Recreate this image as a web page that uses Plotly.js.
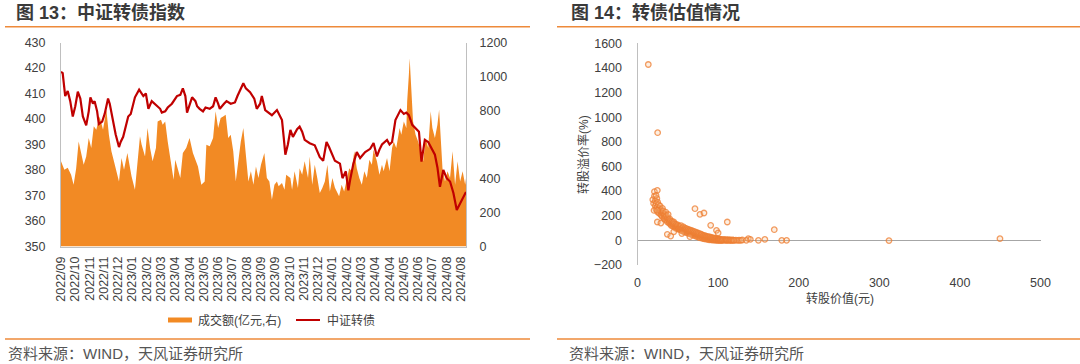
<!DOCTYPE html>
<html>
<head>
<meta charset="utf-8">
<script src="https://cdn.plot.ly/plotly-3.0.1.min.js"></script>
<style>html,body{margin:0;padding:0;background:#fff;}#chart{width:1080px;height:364px;}</style>
</head>
<body>
<div id="chart"></div>
<script>
// ---- Left chart: 中证转债指数 (trading-day index along x) ----
const xTickLabels = ['2022/09','2022/10','2022/11','2022/11','2022/12','2023/01','2023/02','2023/03','2023/04','2023/04','2023/05','2023/06','2023/07','2023/08','2023/09','2023/09','2023/10','2023/11','2023/12','2024/01','2024/02','2024/03','2024/04','2024/04','2024/05','2024/06','2024/07','2024/08','2024/08'];

const volDay = [0,4,8,12,15,18,21,24,27,30,33,36,39,42,46,50,54,57,60,63,66,69,72,75,79,82,84,88,91,94,96,100,103,106,109,113,115,119,121,124,127,131,134,136,139,142,145,149,153,157,160,163,167,171,173,177,181,184,187,190,193,196,199,202,205,208,211,214,217,220,223,226,229,232,235,238,242,245,248,251,254,257,259,263,266,268,273,275,278,282,284,287,290,294,296,299,302,305,308,311,314,317,320,323,326,331,334,337,340,343,346,349,352,355,358,361,364,367,370,372,376,379,382,384,388,391,394,396,399,403,405,408,411,412,414,415,416,417,419,422,425,428,431,434,437,440,442,445,448,450,452,454,457,460,463,466,469,472,475,478,481,482];
const volValue = [501,452,463,422,363,457,618,550,481,530,638,579,707,687,765,687,804,658,560,501,442,383,520,452,550,461,412,334,481,648,599,530,697,579,501,579,736,746,716,736,618,501,393,511,461,403,550,579,638,550,511,471,363,383,599,589,638,795,697,756,765,775,638,658,560,383,501,618,697,540,383,442,363,471,403,481,550,403,383,275,363,383,354,373,334,422,403,334,442,344,461,422,501,403,530,363,481,403,315,344,383,481,324,403,345,295,363,324,403,461,442,560,461,403,363,442,403,510,481,569,501,422,481,442,520,442,579,618,579,697,658,736,697,854,1010,1108,1010,933,736,658,618,560,501,638,579,795,697,638,716,804,638,461,383,442,403,560,363,501,383,442,363,403];

const idxDay = [0,2,5,8,11,14,17,20,23,26,30,33,35,38,40,43,45,49,52,56,58,61,65,69,71,74,77,80,83,88,93,98,101,104,108,111,114,118,120,124,127,132,138,142,145,148,150,153,156,160,162,165,169,172,177,181,184,187,189,194,197,202,207,210,214,217,220,225,230,233,237,239,243,245,251,257,263,265,267,270,273,276,281,284,287,290,296,302,306,308,312,316,319,322,326,332,335,339,342,344,348,352,356,362,368,372,376,379,382,388,391,394,398,404,408,411,414,418,422,426,429,433,437,441,445,448,451,455,459,463,467,471,475,479,482];
const idxValue = [418.5,418,409,411,407,401,405,410.7,408,401,397.5,403,408.5,406,407,403,398,399,402,408,406,401,394,389,391,393,397,401,402,408.5,411.5,409,410,404,407,406,405,404,402.5,403,404.5,406,409,409.5,412,409,402.5,406,408.5,407,405,404,403,404.5,404,405,408.5,406,404,406,407,406,406.5,409,412,414,412,410.5,408,404,406,409,403.5,403,401.5,403.5,399.6,393,386,390,395.7,393,396,397,395,391.8,390.5,389.7,387,385,383.6,391,389,386.4,383.6,382.5,376.8,379.5,372,376,382.5,387,384.7,387,388.3,390.6,385.3,388,390,391.8,390,391,399.6,403.5,402,402.5,401.5,397.7,396.3,395,383.3,391.8,391,388.3,386,381,373.4,380,376.8,375.5,371,364.3,367,370,371.4];

// ---- Right chart: 转债估值情况 ----
const convValue = [19,20,21,22,22,23,23,24,24,25,25,26,26,27,27,28,28,29,29,30,30,31,31,32,32,33,33,34,34,35,35,36,36,37,37,38,38,39,39,40,40,41,41,42,42,43,43,44,44,45,45,46,46,47,47,48,48,49,49,50,50,51,51,52,52,53,53,54,54,55,55,56,56,57,57,58,58,59,59,60,60,61,61,62,62,63,63,64,64,65,65,66,66,67,67,68,68,69,69,70,70,71,71,72,72,73,73,74,74,75,75,76,76,77,77,78,78,79,79,80,80,81,81,82,82,83,83,84,84,85,85,86,86,87,87,88,88,89,89,90,90,91,91,92,92,93,93,94,94,95,95,96,96,97,97,98,98,99,99,100,100,101,101,102,102,103,103,104,105,105,106,107,108,109,110,110,111,112,113,114,115,116,117,118,119,120,122,124,126,128,
  13.4,25,21,24.6,23,20.5,24.5,71.3,77.5,82.5,111.4,169.7,90.8,37,41.2,24.6,29,98,100,137.5,140,150,158,179,185,312,449.7,45,55,65,130,135];
const premiumRate = [330,300,360,320,280,250,300,340,270,310,230,290,250,260,220,280,240,210,250,230,200,260,190,220,240,200,180,210,170,190,230,165,200,180,150,170,210,160,140,150,175,130,160,145,120,155,130,115,140,125,150,110,135,120,100,130,105,115,95,110,125,100,90,115,95,85,105,120,90,80,100,95,75,110,85,70,90,100,80,65,85,75,95,60,80,70,90,55,75,65,85,50,70,60,80,45,65,55,75,40,60,50,70,35,55,45,65,30,50,40,60,25,45,35,55,20,40,30,50,25,45,15,35,25,40,12,30,20,38,10,28,18,32,8,25,15,30,5,22,12,28,4,18,10,24,3,15,8,20,2,12,6,18,1,10,4,15,0,8,3,12,1,6,0,10,3,8,1,5,0,2,7,1,4,0,6,2,1,5,0,3,1,0,4,1,0,2,0,1,0,
  1428,874,395,406,365,243,243,257,211,222,149,87,122,49,35,149,140,81,60,14,8,0,8,0,0,-2,14,70,55,30,3,0];

const TXT = '#404040';
const FONT = 'Liberation Sans, Arial, Noto Sans CJK SC, sans-serif';
const W = 1080, H = 364;
const px = x => x / W;
const py = y => 1 - y / H;

const traces = [
  {x: volDay, y: volValue, type: 'scatter', mode: 'lines', fill: 'tozeroy',
   fillcolor: '#F28A24', line: {width: 0, color: '#F28A24'}, xaxis: 'x', yaxis: 'y',
   name: '成交额(亿元,右)', showlegend: false, hoverinfo: 'skip'},
  {x: idxDay, y: idxValue, type: 'scatter', mode: 'lines',
   line: {width: 2.2, color: '#C00000'}, xaxis: 'x', yaxis: 'y2',
   name: '中证转债', showlegend: false},
  {x: convValue, y: premiumRate, type: 'scatter', mode: 'markers', xaxis: 'x2', yaxis: 'y3',
   marker: {symbol: 'circle', size: 5.5, color: 'rgba(248,190,140,0.25)',
            line: {color: 'rgba(237,125,49,0.75)', width: 1.3}},
   showlegend: false}
];

const tickFont = {family: FONT, size: 12.5, color: TXT};

const layout = {
  width: W, height: H,
  margin: {l: 0, r: 0, t: 0, b: 0},
  paper_bgcolor: '#fff', plot_bgcolor: 'rgba(0,0,0,0)',
  showlegend: false,
  font: {family: FONT, color: TXT},
  xaxis: {domain: [px(61), px(466)], range: [0, 482], anchor: 'y',
          tickvals: xTickLabels.map((_, i) => i * 17), ticktext: xTickLabels,
          tickangle: -90, tickfont: tickFont, ticks: '', showline: true, linecolor: '#BFBFBF',
          linewidth: 1, showgrid: false, zeroline: false, ticklabelstandoff: 4},
  yaxis: {domain: [py(246.5), py(42.5)], range: [0, 1200], dtick: 200, side: 'right', anchor: 'x',
          tickfont: tickFont, ticks: '', showline: true, linecolor: '#BFBFBF',
          showgrid: false, zeroline: false, ticklabelstandoff: 10},
  yaxis2: {overlaying: 'y', range: [350, 430], dtick: 10, side: 'left', anchor: 'x',
          tickfont: tickFont, ticks: '', showline: true, linecolor: '#BFBFBF',
          showgrid: false, zeroline: false, ticklabelstandoff: 12},
  xaxis2: {domain: [px(637.5), px(1040.5)], range: [0, 500], dtick: 100, anchor: 'y3',
          tickfont: tickFont, ticks: '', showline: false, showgrid: false, zeroline: false,
          ticklabelstandoff: 8},
  yaxis3: {domain: [py(265), py(43.3)], range: [-200, 1600], dtick: 200, anchor: 'x2',
          tickfont: tickFont, ticks: '', showline: true, linecolor: '#BFBFBF',
          showgrid: false, zeroline: true, zerolinecolor: '#A6A6A6', zerolinewidth: 1,
          ticklabelstandoff: 12},
  shapes: [
    {type: 'line', xref: 'paper', yref: 'paper', x0: px(5), x1: px(530), y0: py(26.7), y1: py(26.7), line: {color: '#EE8A3A', width: 1.5}},
    {type: 'line', xref: 'paper', yref: 'paper', x0: px(557), x1: px(1080), y0: py(26.7), y1: py(26.7), line: {color: '#EE8A3A', width: 1.5}},
    {type: 'line', xref: 'paper', yref: 'paper', x0: px(5), x1: px(530), y0: py(339), y1: py(339), line: {color: '#EE8A3A', width: 1.5}},
    {type: 'line', xref: 'paper', yref: 'paper', x0: px(557), x1: px(1080), y0: py(339), y1: py(339), line: {color: '#EE8A3A', width: 1.5}},
    {type: 'rect', xref: 'paper', yref: 'paper', x0: px(168), x1: px(192), y0: py(322.5), y1: py(317.5), fillcolor: '#F28A24', line: {width: 0}},
    {type: 'line', xref: 'paper', yref: 'paper', x0: px(296), x1: px(320), y0: py(320), y1: py(320), line: {color: '#C00000', width: 2}}
  ],
  annotations: [
    {text: '<b>图 13：中证转债指数</b>', xref: 'paper', yref: 'paper', x: px(14), y: py(13), xanchor: 'left', yanchor: 'middle', showarrow: false, font: {family: FONT, size: 18, color: '#3A3A3A'}},
    {text: '<b>图 14：转债估值情况</b>', xref: 'paper', yref: 'paper', x: px(569), y: py(13), xanchor: 'left', yanchor: 'middle', showarrow: false, font: {family: FONT, size: 18, color: '#3A3A3A'}},
    {text: '资料来源：WIND，天风证券研究所', xref: 'paper', yref: 'paper', x: px(6), y: py(353), xanchor: 'left', yanchor: 'middle', showarrow: false, font: {family: FONT, size: 15, color: '#555555'}},
    {text: '资料来源：WIND，天风证券研究所', xref: 'paper', yref: 'paper', x: px(567), y: py(353), xanchor: 'left', yanchor: 'middle', showarrow: false, font: {family: FONT, size: 15, color: '#555555'}},
    {text: '成交额(亿元,右)', xref: 'paper', yref: 'paper', x: px(196), y: py(320), xanchor: 'left', yanchor: 'middle', showarrow: false, font: {family: FONT, size: 12, color: TXT}},
    {text: '中证转债', xref: 'paper', yref: 'paper', x: px(325), y: py(320), xanchor: 'left', yanchor: 'middle', showarrow: false, font: {family: FONT, size: 12, color: TXT}},
    {text: '转股溢价率(%)', xref: 'paper', yref: 'paper', x: px(583), y: py(155), xanchor: 'center', yanchor: 'middle', textangle: -90, showarrow: false, font: {family: FONT, size: 12, color: TXT}},
    {text: '转股价值(元)', xref: 'paper', yref: 'paper', x: px(840), y: py(298), xanchor: 'center', yanchor: 'middle', showarrow: false, font: {family: FONT, size: 12, color: TXT}}
  ]
};

Plotly.newPlot('chart', traces, layout, {displayModeBar: false, staticPlot: true});
</script>
</body>
</html>
